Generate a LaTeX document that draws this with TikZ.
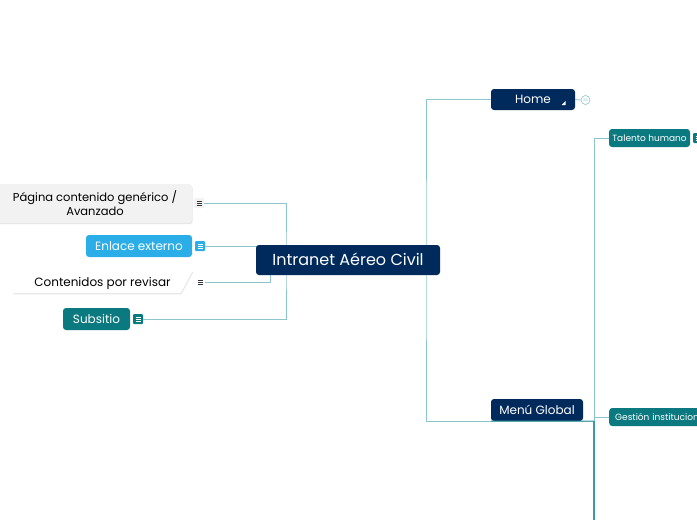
\documentclass[tikz,border=0pt]{standalone}
\usepackage{fontspec}
\setmainfont{Poppins}
\usetikzlibrary{shadows}
\definecolor{navy}{HTML}{002A5C}
\definecolor{skyblue}{HTML}{2BAEE8}
\definecolor{mapteal}{HTML}{0B7A80}
\definecolor{paper}{HTML}{F2F2F2}
\definecolor{linkcol}{HTML}{8CC6CC}
\definecolor{darklink}{HTML}{3E9AA2}
\tikzset{
  topic/.style={rounded corners=3pt, text=white, inner sep=0pt, text height=8.4pt, text depth=0pt, font=\fontsize{12}{14}\selectfont},
  small topic/.style={topic, text height=6.3pt, font=\fontsize{9}{11}\selectfont},
  link/.style={draw=linkcol, line width=0.8pt},
  noteicon/.style={minimum size=10pt, inner sep=0pt, rounded corners=1pt,
    path picture={
      \draw[#1, line width=0.8pt]
        ([xshift=2.5pt,yshift=-3pt]path picture bounding box.north west) -- ([xshift=-2.5pt,yshift=-3pt]path picture bounding box.north east)
        ([xshift=2.5pt,yshift=0pt]path picture bounding box.west) -- ([xshift=-2.5pt]path picture bounding box.east)
        ([xshift=2.5pt,yshift=3pt]path picture bounding box.south west) -- ([xshift=-2.5pt,yshift=3pt]path picture bounding box.south east);}},
  softshadow/.style={drop shadow={opacity=0.2, shadow xshift=0.6pt, shadow yshift=-1.2pt}}
}
\begin{document}
\begin{tikzpicture}[x=1pt, y=-1pt]
  \useasboundingbox (0,0) rectangle (697,520);
  \fill[white] (0,0) rectangle (697,520);
  % Hubs
  \coordinate (lhub) at (286,260);
  \coordinate (rhub) at (426,260);
  \coordinate (rootfoot) at (270,275);
  \coordinate (mhub) at (594,421);
  \coordinate (mend) at (594,520);
  % Left topics
  \node[rounded corners=3pt, fill=paper, softshadow, inner sep=0pt, minimum width=194pt, minimum height=39pt, align=center, font=\fontsize{11.5}{14}\selectfont]
    (page) at (95,203.5) {Página contenido genérico /\\Avanzado};
  \node[noteicon=black!80, fill=paper] (pageicon) at (199,203) {};
  \node[topic, fill=skyblue, minimum width=106pt, minimum height=22pt] (extlink) at (139,246) {Enlace externo};
  \node[noteicon=white, fill=skyblue] (extlinkicon) at (200,246) {};
  \node[inner sep=0pt, minimum width=168pt, minimum height=22pt] (review) at (102.5,282) {};
  \fill[white, softshadow] ([xshift=6pt]review.north west) -- ([xshift=6pt]review.north east)
    -- ([xshift=-6pt]review.south east) -- ([xshift=-6pt]review.south west) -- cycle;
  \node[inner sep=0pt, text height=8.4pt, text depth=0pt, font=\fontsize{12}{14}\selectfont] at (review) {Contenidos por revisar};
  \node[noteicon=black!80] (reviewicon) at (200,282) {};
  \node[topic, fill=mapteal, minimum width=67pt, minimum height=22pt] (subsite) at (96.5,319) {Subsitio};
  \node[noteicon=white, fill=mapteal] (subsiteicon) at (138,319) {};
  % Right topics
  \node[topic, fill=navy, minimum width=84pt, minimum height=21pt] (home) at (533,99.5) {Home};
  \fill[white] (565.5,101) -- (565.5,105) -- (561.5,105) -- cycle;
  \node[circle, draw=linkcol, line width=0.6pt, minimum size=9pt, inner sep=0pt, text=linkcol, font=\fontsize{4}{4}\selectfont] (count) at (585.5,100) {24};
  \node[topic, fill=navy, minimum width=92pt, minimum height=22pt] (menu) at (537,410) {Menú Global};
  \node[small topic, fill=mapteal, minimum width=81pt, minimum height=18pt] (talent) at (649.5,138) {Talento humano};
  \node[noteicon=white, fill=mapteal, minimum size=10pt] (talenticon) at (698,138) {};
  \node[small topic, fill=mapteal, minimum width=110pt, minimum height=18pt, anchor=west, align=left, text width=104pt, inner xsep=6pt] (gestion) at (609,417) {Gestión institucional};
  % Connectors
  \draw[link] (pageicon.east) -| (lhub) |- (subsiteicon.east);
  \draw[link] (extlinkicon.east) -- (extlinkicon.east -| lhub);
  \draw[link] (reviewicon.east) -| (rootfoot);
  \draw[link] (home.west) -| (rhub) |- (mhub);
  \draw[link] (home.east) -- (count.west);
  \draw[link] (talent.west) -| (mhub);
  \draw[link] (gestion.west) -- (gestion.west -| mhub);
  \draw[darklink, line width=1.2pt] (mhub) -- (mend);
  \draw[darklink, line width=1pt] (menu.south west) -- (mhub);
  % Root
  \node[topic, fill=navy, minimum width=184pt, minimum height=30pt, text height=11.2pt, font=\fontsize{16}{18}\selectfont] (root) at (348,260) {Intranet Aéreo Civil};
\end{tikzpicture}
\end{document}
